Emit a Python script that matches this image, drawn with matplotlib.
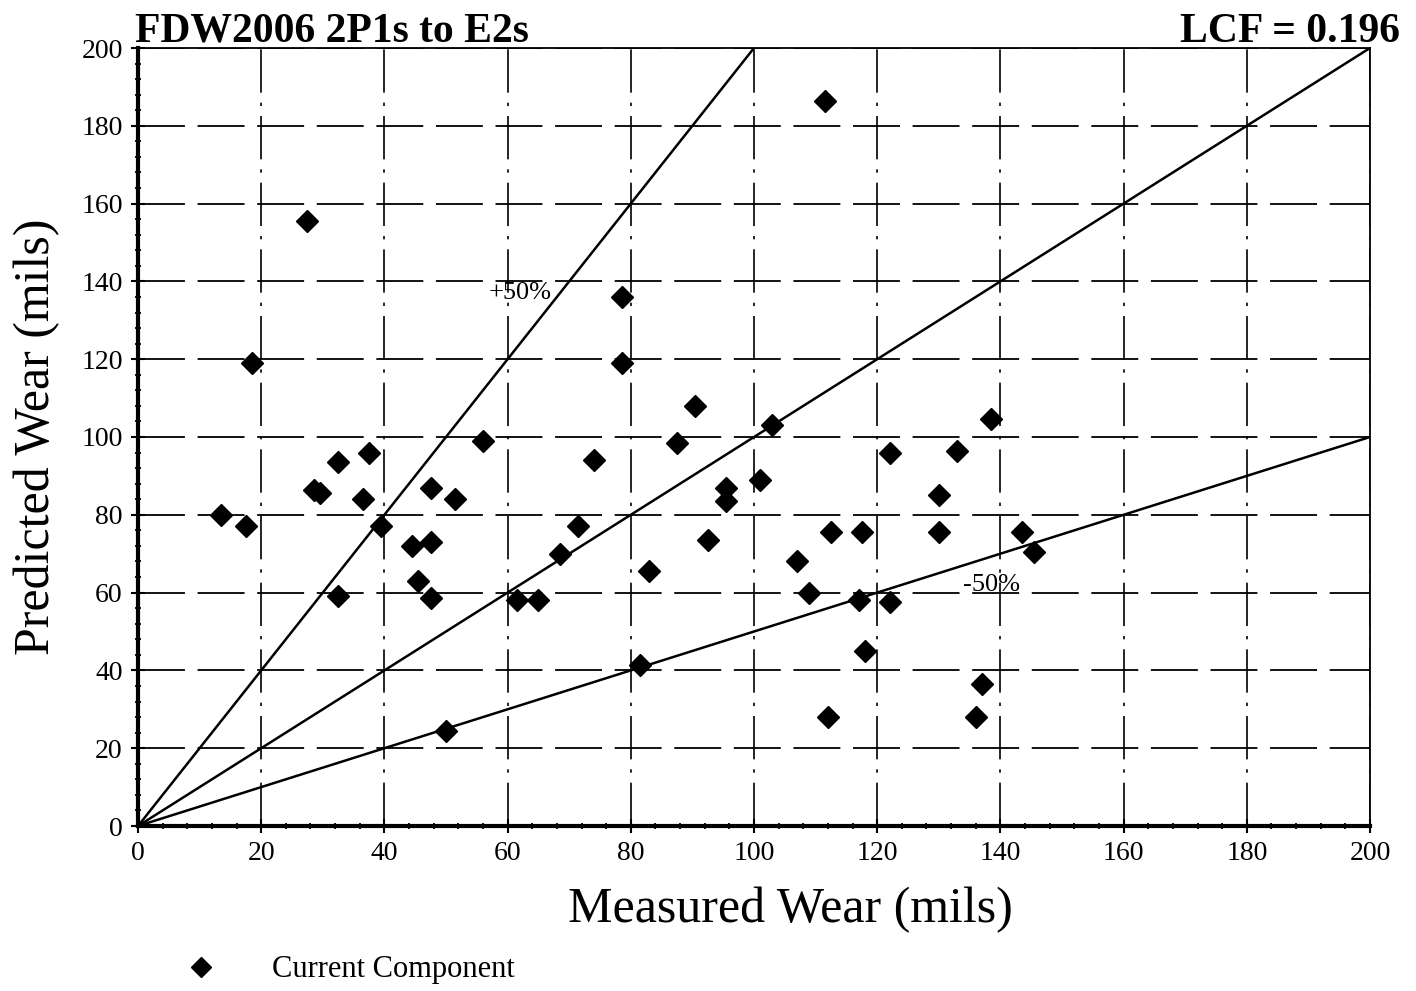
import matplotlib
matplotlib.use("Agg")
import matplotlib.pyplot as plt
from matplotlib.ticker import MultipleLocator
from matplotlib.lines import Line2D
import numpy as np

plt.rcParams['font.family'] = ['Liberation Serif', 'DejaVu Serif']

# Data
measured = [13.5, 17.5, 18.5, 27.5, 28.5, 29.5, 32.5, 32.5, 36.5, 37.5, 39.5,
            44.5, 45.5, 47.5, 47.5, 47.5, 50, 51.5, 56, 61.5, 65, 68.5, 71.5,
            74, 78.5, 78.5, 81.5, 83, 87.5, 90.5, 92.5, 95.5, 95.5, 101, 103,
            107, 109, 111.5, 112, 112.5, 117, 117.5, 118, 122, 122, 130, 130,
            133, 136, 137, 138.5, 143.5, 145.5]
predicted = [80, 77, 119, 155.5, 86.5, 85.5, 93.5, 59, 84, 96, 77,
             72, 63, 87, 73, 58.5, 24.5, 84, 99, 58, 58, 70, 77,
             94, 136, 119, 41.5, 65.5, 98.5, 108, 73.5, 87, 83.5, 89, 103,
             68, 60, 186.5, 28, 75.5, 58, 75.5, 45, 96, 57.5, 85, 75.5,
             96.5, 28, 36.5, 104.5, 75.5, 70.5]
ref_slopes = [2.0, 1.0, 0.5]
ref_range = [0, 200]
x_ticks = [0, 20, 40, 60, 80, 100, 120, 140, 160, 180, 200]
y_ticks = [0, 20, 40, 60, 80, 100, 120, 140, 160, 180, 200]

W, H = 1416, 991
fig = plt.figure(figsize=(W / 100, H / 100), dpi=100)
ax = fig.add_axes([138 / W, 1 - 826 / H, (1370 - 138) / W, (826 - 48) / H])

# grid
for v in x_ticks[1:]:
    ax.axvline(v, color='black', lw=1.2, ls=(0, (26, 6, 2, 6)), zorder=1)
for v in y_ticks[1:]:
    ax.axhline(v, color='black', lw=1.3, ls=(0, (26, 7)), zorder=1)

# reference lines
xr = np.array(ref_range, dtype=float)
for s in ref_slopes:
    ax.plot(xr, s * xr, color='black', lw=1.8, zorder=2)

ax.plot(measured, predicted, ls='none', marker='D', ms=11, color='black',
        zorder=3, label='Current Component')

ax.text(62, 137, '+50%', fontsize=19, ha='center', va='center', zorder=2)
ax.text(138.5, 62, '-50%', fontsize=19, ha='center', va='center', zorder=2)

ax.set_xlim(0, 200)
ax.set_ylim(0, 200)
ax.set_xticks(x_ticks)
ax.set_yticks(y_ticks)
ax.xaxis.set_minor_locator(MultipleLocator(4))
ax.yaxis.set_minor_locator(MultipleLocator(4))
ax.tick_params(which='major', direction='inout', length=10, width=1.5,
               labelsize=20, colors='black', pad=6)
ax.tick_params(which='minor', direction='inout', length=5, width=1.3)

for side in ['left', 'bottom']:
    ax.spines[side].set_linewidth(3)
for side in ['top', 'right']:
    ax.spines[side].set_linewidth(1.3)

ax.set_xlabel('Measured Wear (mils)', fontsize=36)
ax.xaxis.set_label_coords((790 - 138) / 1232, -(910 - 826) / 778)
ax.xaxis.label.set_va('center')
ax.set_ylabel('Predicted Wear (mils)', fontsize=36)
ax.yaxis.set_label_coords(-(138 - 37) / 1232, 0.5)
ax.yaxis.label.set_va('center')

fig.text(135 / W, 1 - 42 / H, 'FDW2006 2P1s to E2s', fontsize=30,
         fontweight='bold', ha='left', va='baseline')
fig.text(1400 / W, 1 - 42 / H, 'LCF = 0.196', fontsize=30,
         fontweight='bold', ha='right', va='baseline')

handle = Line2D([], [], ls='none', marker='D', ms=10, color='black')
fig.legend([handle], ['Current Component'], loc='center left',
           bbox_to_anchor=(183 / W, 1 - 970 / H), frameon=False,
           fontsize=22, handlelength=1.2, handletextpad=1.7,
           borderaxespad=0, borderpad=0)

fig.savefig('out.png', dpi=100)
